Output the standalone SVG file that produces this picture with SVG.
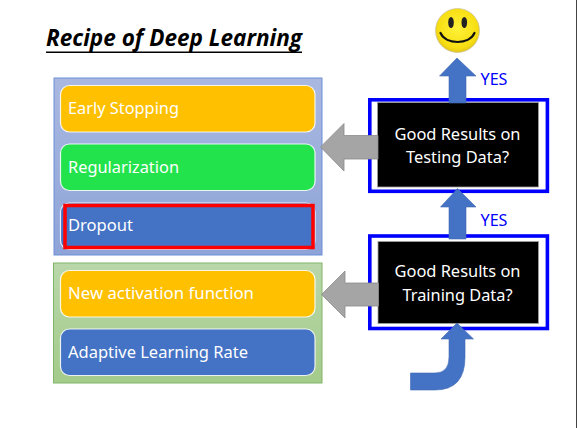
<svg xmlns="http://www.w3.org/2000/svg" width="577" height="428" viewBox="0 0 577 428">
<style>
text{font-family:"Noto Sans","Open Sans","Liberation Sans",sans-serif}
.item{stroke:#fff;stroke-opacity:.85;stroke-width:1.2}
.lbl{fill:#fff;font-size:17px}
.q{fill:#fff;font-size:17px;text-anchor:middle}
.frame{fill:#fff;stroke:#0000ff;stroke-width:3.6}
.black{fill:#000;stroke:#a0a0a0;stroke-width:.8}
.gray{fill:#a5a5a5;stroke:#8c8c8c;stroke-width:.8}
.up{fill:#4472c4;stroke:#3f68b2;stroke-width:.6}
.yes{fill:#0000ff;font-size:16px}
</style>
<defs>
<linearGradient id="pb" x1="0" y1="0" x2="0" y2="1"><stop offset="0" stop-color="#a9b8e0"/><stop offset="1" stop-color="#8ea4d8"/></linearGradient>
<linearGradient id="pg" x1="0" y1="0" x2="0" y2="1"><stop offset="0" stop-color="#b9d7aa"/><stop offset="1" stop-color="#a3cb8a"/></linearGradient>
<radialGradient id="sm" cx=".5" cy=".45" r=".6"><stop offset="0" stop-color="#fff23a"/><stop offset=".75" stop-color="#f7de12"/><stop offset="1" stop-color="#d9b820"/></radialGradient>
</defs>
<rect width="577" height="428" fill="#fff"/>
<rect x="576" y="0" width="1" height="428" fill="#444"/>
<text id="title" x="46" y="46" font-size="24" font-weight="700" font-style="italic" textLength="256" lengthAdjust="spacingAndGlyphs" style="font-family:'Open Sans','Noto Sans',sans-serif">Recipe of Deep Learning</text>
<rect x="46" y="51.500" width="256" height="1.500" fill="#000"/>
<g id="panel-upper"><rect x="54" y="78" width="268" height="177" fill="url(#pb)" stroke="#6d8fd6" stroke-width="1"/></g>
<g id="panel-lower"><rect x="53.500" y="263" width="268.500" height="120" fill="url(#pg)" stroke="#82b56a" stroke-width="1"/></g>
<g id="early-stopping"><rect class="item" x="60.500" y="85.500" width="254.500" height="46.500" rx="9" fill="#ffc000"/><text class="lbl" x="68" y="114" textLength="111" lengthAdjust="spacingAndGlyphs">Early Stopping</text></g>
<g id="regularization"><rect class="item" x="60.500" y="144" width="254.500" height="46.500" rx="9" fill="#22e34c"/><text class="lbl" x="68" y="173" textLength="111" lengthAdjust="spacingAndGlyphs">Regularization</text></g>
<g id="dropout"><rect class="item" x="60.500" y="203" width="254.500" height="46.500" rx="9" fill="#4472c4"/><rect x="65" y="205.500" width="248" height="42" fill="#4472c4" stroke="#ff0000" stroke-width="3.500"/><text class="lbl" x="68" y="231" textLength="65" lengthAdjust="spacingAndGlyphs">Dropout</text></g>
<g id="new-activation"><rect class="item" x="60.500" y="270.500" width="254.500" height="46.500" rx="9" fill="#ffc000"/><text class="lbl" x="68" y="299" textLength="186" lengthAdjust="spacingAndGlyphs">New activation function</text></g>
<g id="adaptive-lr"><rect class="item" x="60.500" y="329" width="254.500" height="46.500" rx="9" fill="#4472c4"/><text class="lbl" x="68" y="358" textLength="180" lengthAdjust="spacingAndGlyphs">Adaptive Learning Rate</text></g>
<g id="testing"><rect class="frame" x="369.800" y="99.800" width="177.600" height="91.500"/><rect class="black" x="377.500" y="102.500" width="161" height="84.500"/><text class="q" x="457.500" y="140" textLength="126" lengthAdjust="spacingAndGlyphs">Good Results on</text><text class="q" x="457.500" y="163" textLength="103" lengthAdjust="spacingAndGlyphs">Testing Data?</text></g>
<g id="training"><rect class="frame" x="369.800" y="236" width="177.600" height="92.500"/><rect class="black" x="378" y="241.500" width="160.500" height="82"/><text class="q" x="457.500" y="277" textLength="126" lengthAdjust="spacingAndGlyphs">Good Results on</text><text class="q" x="457.500" y="301" textLength="110" lengthAdjust="spacingAndGlyphs">Training Data?</text></g>
<g id="connectors">
<path class="gray" d="M320.500 147L344 123.500V135.500H378V159H344V171Z"/>
<path class="gray" d="M321.500 294.500L345 271V283H378.500V306H345V318Z"/>
<path class="up" d="M457 58L476 76H466V103H449V76H439.500Z"/>
<path class="up" d="M457.500 188.500L476 207H466V239H449V207H440.500Z"/>
<path class="up" d="M457 323L473.500 339H465V357Q465 390 435 390H410.500V373H435Q449 373 449 357V339H441Z"/>
</g>
<g id="smiley"><circle cx="457.500" cy="30.500" r="22" fill="url(#sm)" stroke="#cfc7a0" stroke-width=".8"/><ellipse cx="451" cy="22.500" rx="2.800" ry="5.500" fill="#222"/><ellipse cx="464.300" cy="22.500" rx="2.800" ry="5.500" fill="#222"/><path d="M440.500 33C446 45 469 45 474.500 33" fill="none" stroke="#111" stroke-width="2.200" stroke-linecap="round"/></g>
<text class="yes" x="480.500" y="85" textLength="27" lengthAdjust="spacingAndGlyphs">YES</text>
<text class="yes" x="480.500" y="225.500" textLength="27" lengthAdjust="spacingAndGlyphs">YES</text>
</svg>
